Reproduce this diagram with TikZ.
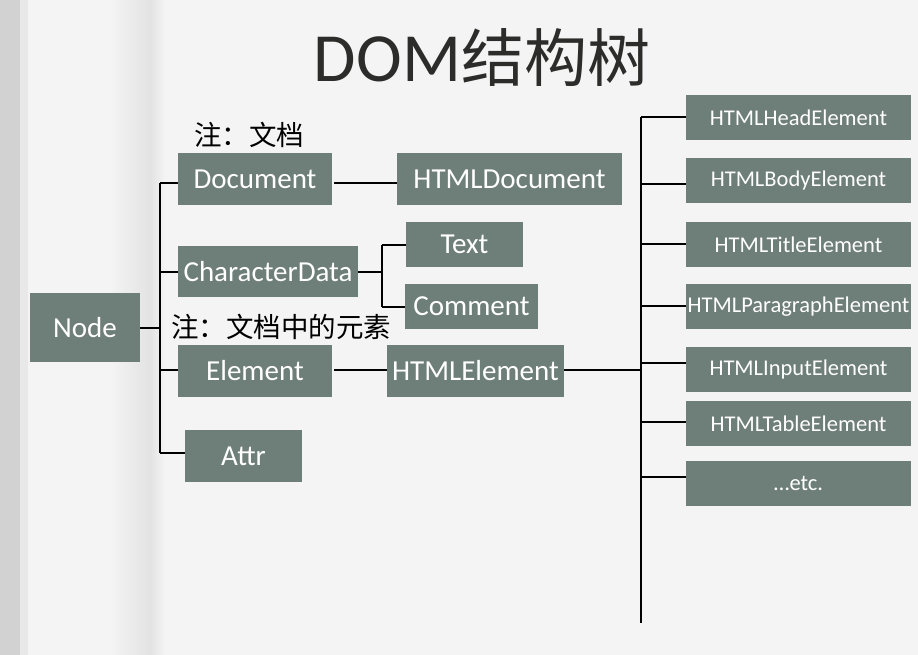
\documentclass[tikz,border=0pt]{standalone}
\usepackage{fontspec}
\setmainfont{Carlito}
\newfontfamily\cjk{Noto Sans CJK SC}
\definecolor{boxfill}{HTML}{6E7E79}
\definecolor{pagebg}{HTML}{F4F4F4}
\definecolor{titlecol}{HTML}{2C2C2A}
\begin{document}
\begin{tikzpicture}[x=1pt,y=-1pt,
  bigbox/.style={fill=boxfill,text=white,inner sep=0pt,font=\fontsize{29}{29}\selectfont},
  smallbox/.style={fill=boxfill,text=white,inner sep=0pt,minimum width=225pt,minimum height=45pt,font=\fontsize{22.5}{22.5}\selectfont},
  conn/.style={draw=black,line width=2pt},
  note/.style={font=\cjk\fontsize{27.5}{27.5}\selectfont,text=black,inner sep=0pt}]
% background
\fill[pagebg] (0,0) rectangle (918,655);
\useasboundingbox (0,0) rectangle (918,655);
\fill[gray!35] (0,0) rectangle (20,655);
\fill[gray!18] (20,0) rectangle (28,655);
\shade[left color=pagebg,right color=gray!22] (110,0) rectangle (150,655);
\shade[left color=gray!22,right color=pagebg] (150,0) rectangle (165,655);

% title
\node[inner sep=0pt,text=titlecol] (title) at (482,58)
  {\fontsize{69}{69}\selectfont DOM{\cjk\fontsize{63}{63}\selectfont 结构树}};

% left tree
\node[bigbox,minimum width=110pt,minimum height=69pt] (node) at (85,327.5) {Node};
\node[bigbox,minimum width=154pt,minimum height=52pt] (doc) at (255,179) {Document};
\node[bigbox,minimum width=225pt,minimum height=52pt] (htmldoc) at (509.5,179) {HTMLDocument};
\node[bigbox,minimum width=180pt,minimum height=51pt] (chardata) at (268,271.5) {CharacterData};
\node[bigbox,minimum width=117pt,minimum height=45pt] (text) at (464.5,244.5) {Text};
\node[bigbox,minimum width=133pt,minimum height=45pt] (comment) at (471.5,306.5) {Comment};
\node[bigbox,minimum width=154pt,minimum height=52pt] (element) at (255,371) {Element};
\node[bigbox,minimum width=177pt,minimum height=52pt] (htmlel) at (475.5,371) {HTMLElement};
\node[bigbox,minimum width=117pt,minimum height=52pt] (attr) at (243.5,456) {Attr};

\node[note] (note1) at (249,135) {注：文档};
\node[note] (note2) at (281,327) {注：文档中的元素};

% right column
\node[smallbox] (head) at (798.5,117.5) {HTMLHeadElement};
\node[smallbox] (body) at (798.5,180.5) {HTMLBodyElement};
\node[smallbox] (titleel) at (798.5,244.5) {HTMLTitleElement};
\node[smallbox] (para) at (798.5,306.5) {HTMLParagraphElement};
\node[smallbox] (input) at (798.5,369.5) {HTMLInputElement};
\node[smallbox] (table) at (798.5,423.5) {HTMLTableElement};
\node[smallbox] (etc) at (798.5,483.5) {\dots etc.};

% left trunk
\coordinate (lt0) at (160,183);
\coordinate (lt1) at (160,328);
\coordinate (lt2) at (160,272);
\coordinate (lt3) at (160,370);
\coordinate (lt4) at (160,453);
\draw[conn] (lt0) -- (lt4);
\draw[conn] (node.east |- lt1) -- (lt1);
\draw[conn] (lt0) -- (doc.west |- lt0);
\draw[conn] (lt2) -- (chardata.west |- lt2);
\draw[conn] (lt3) -- (element.west |- lt3);
\draw[conn] (lt4) -- (attr.west |- lt4);

% document -> htmldocument
\draw[conn] (doc.east) ++(2,4) coordinate (d1) -- (htmldoc.west |- d1);

% characterdata branch
\coordinate (ct) at (382,244.5);
\coordinate (cb) at (382,306.5);
\draw[conn] (chardata.east |- 0,272) -- (382,272);
\draw[conn] (ct) -- (cb);
\draw[conn] (ct) -- (text.west);
\draw[conn] (cb) -- (comment.west);

% element -> htmlelement
\draw[conn] (element.east) ++(2,-1) coordinate (e1) -- (htmlel.west |- e1);

% right trunk
\coordinate (rt0) at (641,117);
\coordinate (rtb) at (641,623);
\coordinate (rte) at (641,370);
\draw[conn] (rt0) -- (rtb);
\draw[conn] (htmlel.east |- rte) -- (rte);
\coordinate (r1) at (641,117);
\coordinate (r2) at (641,184);
\coordinate (r3) at (641,244);
\coordinate (r4) at (641,306);
\coordinate (r5) at (641,363);
\coordinate (r6) at (641,422);
\coordinate (r7) at (641,477);
\draw[conn] (r1) -- (head.west |- r1);
\draw[conn] (r2) -- (body.west |- r2);
\draw[conn] (r3) -- (titleel.west |- r3);
\draw[conn] (r4) -- (para.west |- r4);
\draw[conn] (r5) -- (input.west |- r5);
\draw[conn] (r6) -- (table.west |- r6);
\draw[conn] (r7) -- (etc.west |- r7);
\end{tikzpicture}
\end{document}
